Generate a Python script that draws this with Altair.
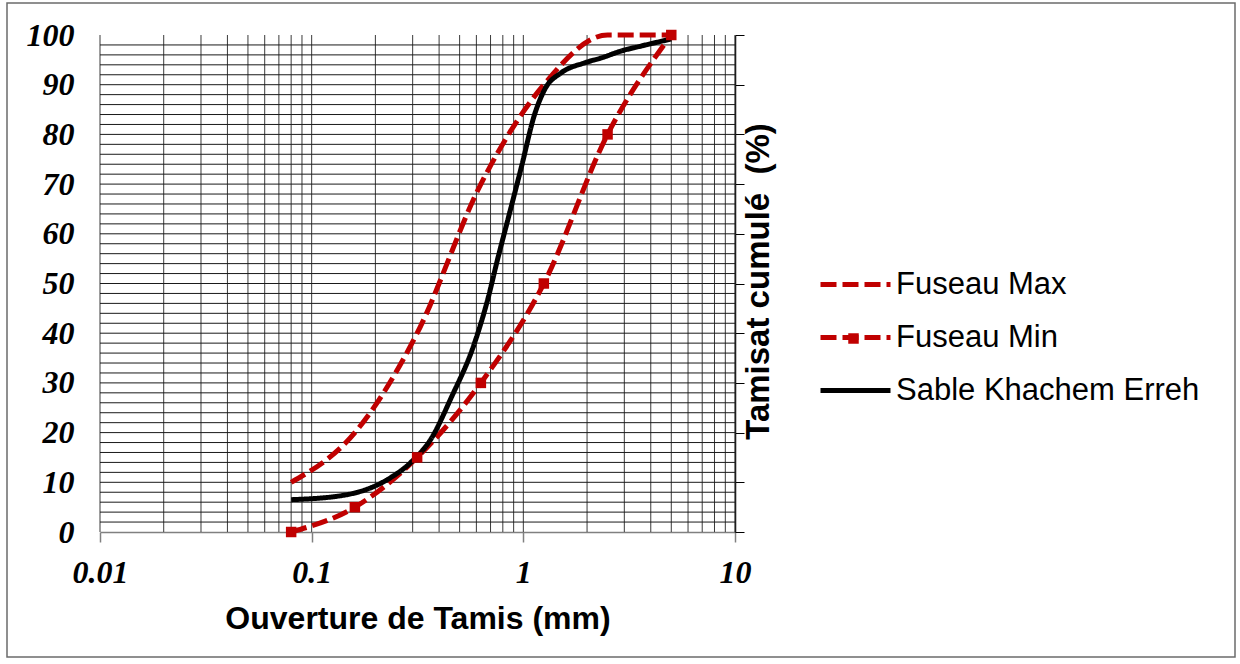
import altair as alt
import pandas as pd

# ---------------- data ----------------
sieve = [0.08, 0.16, 0.315, 0.63, 1.25, 2.5, 5]
fuseau_max = [10, 20, 40, 70, 90, 100, 100]
fuseau_min = [0, 5, 15, 30, 50, 80, 100]

sable_x = [0.08, 0.142, 0.229, 0.294, 0.366, 0.456, 0.588, 0.679, 0.757, 0.847,
           0.98, 1.13, 1.26, 1.51, 1.95, 2.34, 2.91, 3.62, 5.0]
sable_y = [6.5, 7.4, 10.6, 14, 18.7, 27, 38, 46.8, 55, 63,
           73.5, 84, 89, 92.4, 94.4, 95.4, 96.8, 97.8, 99.2]

series_names = ["Fuseau Max", "Fuseau Min", "Sable Khachem Erreh"]

x_grid = [0.01, 0.02, 0.03, 0.04, 0.05, 0.06, 0.07, 0.08, 0.09,
          0.1, 0.2, 0.3, 0.4, 0.5, 0.6, 0.7, 0.8, 0.9,
          1, 2, 3, 4, 5, 6, 7, 8, 9, 10]
y_grid = [2, 4, 6, 8, 10, 12, 14, 16, 18, 20, 22, 24, 26, 28, 30, 32, 34, 36, 38, 40,
          42, 44, 46, 48, 50, 52, 54, 56, 58, 60, 62, 64, 66, 68, 70, 72, 74, 76, 78, 80,
          82, 84, 86, 88, 90, 92, 94, 96, 98]
y_labels = [0, 10, 20, 30, 40, 50, 60, 70, 80, 90, 100]
x_labels = [0.01, 0.1, 1, 10]

# ---------------- tables ----------------
rows = []
for x, y in zip(sieve, fuseau_max):
    rows.append({"x": x, "y": y, "series": series_names[0]})
for x, y in zip(sieve, fuseau_min):
    rows.append({"x": x, "y": y, "series": series_names[1]})
for x, y in zip(sable_x, sable_y):
    rows.append({"x": x, "y": y, "series": series_names[2]})
lines_df = pd.DataFrame(rows)
min_df = pd.DataFrame({"x": sieve, "y": fuseau_min, "marker": [series_names[1]] * len(sieve)})
vgrid_df = pd.DataFrame({"x": x_grid})
hgrid_df = pd.DataFrame({"y": y_grid})

W, H = 635, 497
RED = "#C00000"
SERIF = "Liberation Serif"
SANS = "Liberation Sans"

xscale = alt.Scale(type="log", domain=[0.01, 10], nice=False)
yscale = alt.Scale(domain=[0, 100], nice=False, zero=False)

x_axis = alt.Axis(
    values=x_labels, format="~g", grid=False, orient="bottom",
    tickSize=10, tickColor="#808080", tickWidth=1.5,
    domainColor="#808080", domainWidth=1.5,
    labelFont=SERIF, labelFontWeight="bold", labelFontStyle="italic",
    labelFontSize=32, labelColor="black", labelPadding=15, labelFlush=False,
    title="Ouverture de Tamis (mm)", titleFont=SANS, titleFontWeight="bold",
    titleFontSize=32, titleColor="black", titleBaseline="alphabetic", titleY=96,
)
y_axis_left = alt.Axis(
    values=y_labels, orient="left", grid=False, ticks=False, domain=False,
    labelFont=SERIF, labelFontWeight="bold", labelFontStyle="italic",
    labelFontSize=32, labelColor="black", labelPadding=26, labelFlush=False,
    labelBaseline="middle", title=None,
)
y_axis_right = alt.Axis(
    values=y_labels, orient="right", grid=False, labels=False,
    ticks=True, tickSize=9, tickColor="black", tickWidth=1,
    domain=True, domainColor="black", domainWidth=1.5,
    title="Tamisat cumulé \u00a0(%)", titleFont=SANS, titleFontWeight="bold",
    titleFontSize=33, titleColor="black", titleAngle=270,
    titleBaseline="alphabetic", titleAlign="center", titleX=33, titleY=246,
)

X = alt.X("x:Q", scale=xscale, axis=x_axis)
Y = alt.Y("y:Q", scale=yscale, axis=y_axis_left)

frame = alt.Chart(pd.DataFrame({"k": [0]})).mark_rect(
    fillOpacity=0, stroke="#6b6b6b", strokeWidth=1.5
).encode(
    x=alt.value(7 - 100), x2=alt.value(1235 - 100),
    y=alt.value(3 - 35), y2=alt.value(657 - 35),
)

vgrid = alt.Chart(vgrid_df).mark_rule(color="#3a3a3a", strokeWidth=1).encode(x=X)
hgrid = alt.Chart(hgrid_df).mark_rule(color="#1a1a1a", strokeWidth=1).encode(y=Y)

LEG = dict(title=None)

lines = alt.Chart(lines_df).mark_line(interpolate="monotone", strokeCap="butt").encode(
    x=X, y=Y,
    color=alt.Color("series:N", scale=alt.Scale(domain=series_names, range=[RED, RED, "black"]),
                    legend=alt.Legend(**LEG)),
    strokeDash=alt.StrokeDash("series:N", scale=alt.Scale(domain=series_names,
                              range=[[16, 6], [16, 6], [1, 0]]), legend=alt.Legend(**LEG)),
    strokeWidth=alt.StrokeWidth("series:N", scale=alt.Scale(domain=series_names,
                                range=[5, 5, 6]), legend=alt.Legend(**LEG)),
)

markers = alt.Chart(min_df).mark_point(filled=True, color=RED, size=110, opacity=1).encode(
    x=X, y=Y,
    shape=alt.Shape("marker:N", scale=alt.Scale(domain=[series_names[1]], range=["square"]),
                    legend=alt.Legend(title=None, orient="none", legendX=748, legendY=298,
                                      symbolSize=110, symbolFillColor=RED, symbolStrokeColor=RED,
                                      symbolStrokeWidth=0,
                                      labelExpr="''", labelFontSize=1, padding=0)),
)

main = alt.layer(frame, vgrid, hgrid, lines, markers)

right = alt.Chart(pd.DataFrame({"v": y_labels})).mark_point(opacity=0).encode(
    y=alt.Y("v:Q", scale=yscale, axis=y_axis_right)
)

chart = alt.layer(main, right).resolve_scale(y="independent").properties(
    width=W, height=H,
    autosize=alt.AutoSizeParams(type="none"),
    padding={"left": 100, "top": 35, "right": 1240 - 100 - W, "bottom": 664 - 35 - H},
    background="white",
).configure_view(stroke=None).configure_legend(
    orient="none", legendX=718, legendY=212, padding=0,
    symbolType="stroke", symbolSize=4900, labelFont=SANS, labelFontSize=31,
    labelColor="black", labelOffset=3, rowPadding=0, labelLimit=500,
)

chart.save("out.html", embed_options={"renderer": "svg", "actions": False})
